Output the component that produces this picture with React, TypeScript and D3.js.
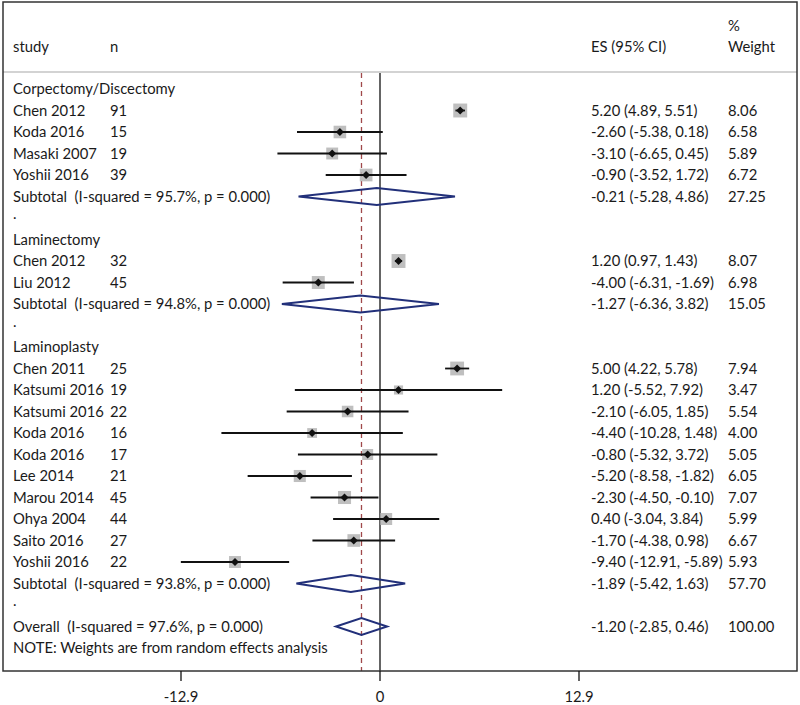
import React from "react";
import * as d3 from "d3";

const groups = ["Corpectomy/Discectomy", "Laminectomy", "Laminoplasty"];
const studyNames = [
  "Chen 2012", "Koda 2016", "Masaki 2007", "Yoshii 2016",
  "Chen 2012", "Liu 2012",
  "Chen 2011", "Katsumi 2016", "Katsumi 2016", "Koda 2016", "Koda 2016", "Lee 2014", "Marou 2014", "Ohya 2004", "Saito 2016", "Yoshii 2016",
];
const studyN = [91, 15, 19, 39, 32, 45, 25, 19, 22, 16, 17, 21, 45, 44, 27, 22];
const studyGroup = [0, 0, 0, 0, 1, 1, 2, 2, 2, 2, 2, 2, 2, 2, 2, 2];
const studyES = [5.2, -2.6, -3.1, -0.9, 1.2, -4.0, 5.0, 1.2, -2.1, -4.4, -0.8, -5.2, -2.3, 0.4, -1.7, -9.4];
const studyLo = [4.89, -5.38, -6.65, -3.52, 0.97, -6.31, 4.22, -5.52, -6.05, -10.28, -5.32, -8.58, -4.5, -3.04, -4.38, -12.91];
const studyHi = [5.51, 0.18, 0.45, 1.72, 1.43, -1.69, 5.78, 7.92, 1.85, 1.48, 3.72, -1.82, -0.1, 3.84, 0.98, -5.89];
const studyWeight = [8.06, 6.58, 5.89, 6.72, 8.07, 6.98, 7.94, 3.47, 5.54, 4.0, 5.05, 6.05, 7.07, 5.99, 6.67, 5.93];

const subI2 = ["95.7%", "94.8%", "93.8%"];
const subES = [-0.21, -1.27, -1.89];
const subLo = [-5.28, -6.36, -5.42];
const subHi = [4.86, 3.82, 1.63];
const subWeight = [27.25, 15.05, 57.7];

const overallI2 = "97.6%";
const overallES = -1.2;
const overallLo = -2.85;
const overallHi = 0.46;
const overallWeight = 100.0;

const axisTicks = [-12.9, 0, 12.9];

type Row =
  | { kind: "group"; label: string }
  | { kind: "study"; i: number }
  | { kind: "sub"; g: number }
  | { kind: "dot" }
  | { kind: "overall" }
  | { kind: "note" };

const rows: Row[] = [];
groups.forEach((g, gi) => {
  rows.push({ kind: "group", label: g });
  studyNames.forEach((_, i) => {
    if (studyGroup[i] === gi) rows.push({ kind: "study", i });
  });
  rows.push({ kind: "sub", g: gi });
  rows.push({ kind: "dot" });
});
rows.push({ kind: "overall" });
rows.push({ kind: "note" });

const W = 800;
const H = 705;
const FONT = "Lato, 'Noto Sans', sans-serif";
const FS = 14.8;
const TEXT = "#1a1a1a";
const NAVY = "#22307a";

const fmt2 = d3.format(".2f");
const f2 = (v: number) => fmt2(v).replace("\u2212", "-");
const esText = (e: number, l: number, h: number) => `${f2(e)} (${f2(l)}, ${f2(h)})`;

export default function App() {
  const x = d3.scaleLinear().domain([-12.9, 12.9]).range([181, 579]);
  const y = d3.scaleLinear().domain([0, 1]).range([89, 110.5]);
  const frameL = 3, frameR = 797, frameT = 2, frameB = 671, headerY = 72;
  const colStudy = 13, colN = 110, colES = 591, colW = 728;
  const boxK = 4.9;
  const dH = 8.5;

  const diamond = (lo: number, es: number, hi: number, cy: number) =>
    `M${x(lo)},${cy} L${x(es)},${cy - dH} L${x(hi)},${cy} L${x(es)},${cy + dH} Z`;

  return (
    <div style={{ position: "absolute", left: 0, top: 0 }}>
      <svg width={W} height={H} style={{ display: "block", background: "#fff" }} fontFamily={FONT} fontSize={FS}>
        <rect x={0} y={0} width={W} height={H} fill="#fff" />
        {/* header */}
        <text x={colStudy} y={47} dy="0.35em" fill={TEXT}>study</text>
        <text x={colN} y={47} dy="0.35em" fill={TEXT}>n</text>
        <text x={colES} y={47} dy="0.35em" fill={TEXT}>ES (95% CI)</text>
        <text x={colW} y={26} dy="0.35em" fill={TEXT}>%</text>
        <text x={colW} y={47} dy="0.35em" fill={TEXT}>Weight</text>
        <line x1={frameL} x2={frameR} y1={headerY} y2={headerY} stroke="#c4c4c4" strokeWidth={1.5} />

        {/* reference lines */}
        <line x1={x(0)} x2={x(0)} y1={headerY + 1} y2={frameB} stroke="#111" strokeWidth={1.3} />
        <line x1={x(overallES)} x2={x(overallES)} y1={headerY + 1} y2={frameB} stroke="#a0484a" strokeWidth={1.3} strokeDasharray="5,4" />

        {rows.map((r, ri) => {
          const cy = y(ri);
          if (r.kind === "group")
            return <text key={ri} x={colStudy} y={cy} dy="0.35em" fill={TEXT}>{r.label}</text>;
          if (r.kind === "dot")
            return <text key={ri} x={colStudy} y={cy - 4} dy="0.35em" fill={TEXT}>.</text>;
          if (r.kind === "note")
            return <text key={ri} x={colStudy} y={cy} dy="0.35em" fill={TEXT}>NOTE: Weights are from random effects analysis</text>;
          if (r.kind === "study") {
            const i = r.i;
            const s = boxK * Math.sqrt(studyWeight[i]);
            const cx = x(studyES[i]);
            return (
              <g key={ri}>
                <text x={colStudy} y={cy} dy="0.35em" fill={TEXT}>{studyNames[i]}</text>
                <text x={colN} y={cy} dy="0.35em" fill={TEXT}>{studyN[i]}</text>
                <rect x={cx - s / 2} y={cy - s / 2} width={s} height={s} fill="#b4b4b4" opacity={0.85} />
                <line x1={x(studyLo[i])} x2={x(studyHi[i])} y1={cy} y2={cy} stroke="#111" strokeWidth={1.8} />
                <path d={`M${cx - 4},${cy} L${cx},${cy - 4} L${cx + 4},${cy} L${cx},${cy + 4} Z`} fill="#111" />
                <text x={colES} y={cy} dy="0.35em" fill={TEXT}>{esText(studyES[i], studyLo[i], studyHi[i])}</text>
                <text x={colW} y={cy} dy="0.35em" fill={TEXT}>{f2(studyWeight[i])}</text>
              </g>
            );
          }
          if (r.kind === "sub") {
            const g = r.g;
            return (
              <g key={ri}>
                <text x={colStudy} y={cy} dy="0.35em" fill={TEXT} style={{ whiteSpace: "pre" }}>{`Subtotal  (I-squared = ${subI2[g]}, p = 0.000)`}</text>
                <path d={diamond(subLo[g], subES[g], subHi[g], cy)} fill="none" stroke={NAVY} strokeWidth={2} />
                <text x={colES} y={cy} dy="0.35em" fill={TEXT}>{esText(subES[g], subLo[g], subHi[g])}</text>
                <text x={colW} y={cy} dy="0.35em" fill={TEXT}>{f2(subWeight[g])}</text>
              </g>
            );
          }
          return (
            <g key={ri}>
              <text x={colStudy} y={cy} dy="0.35em" fill={TEXT} style={{ whiteSpace: "pre" }}>{`Overall  (I-squared = ${overallI2}, p = 0.000)`}</text>
              <path d={diamond(overallLo, overallES, overallHi, cy)} fill="none" stroke={NAVY} strokeWidth={2} />
              <text x={colES} y={cy} dy="0.35em" fill={TEXT}>{esText(overallES, overallLo, overallHi)}</text>
              <text x={colW} y={cy} dy="0.35em" fill={TEXT}>{f2(overallWeight)}</text>
            </g>
          );
        })}

        {/* frame */}
        <rect x={frameL} y={frameT} width={frameR - frameL} height={frameB - frameT} fill="none" stroke="#333" strokeWidth={1.5} />

        {/* axis */}
        {axisTicks.map((t) => (
          <g key={t}>
            <line x1={x(t)} x2={x(t)} y1={frameB} y2={frameB + 10} stroke="#111" strokeWidth={1.3} />
            <text x={x(t)} y={697} dy="0.35em" textAnchor="middle" fill={TEXT}>{t === 0 ? "0" : f2(t).replace(/0$/, "")}</text>
          </g>
        ))}
      </svg>
    </div>
  );
}
